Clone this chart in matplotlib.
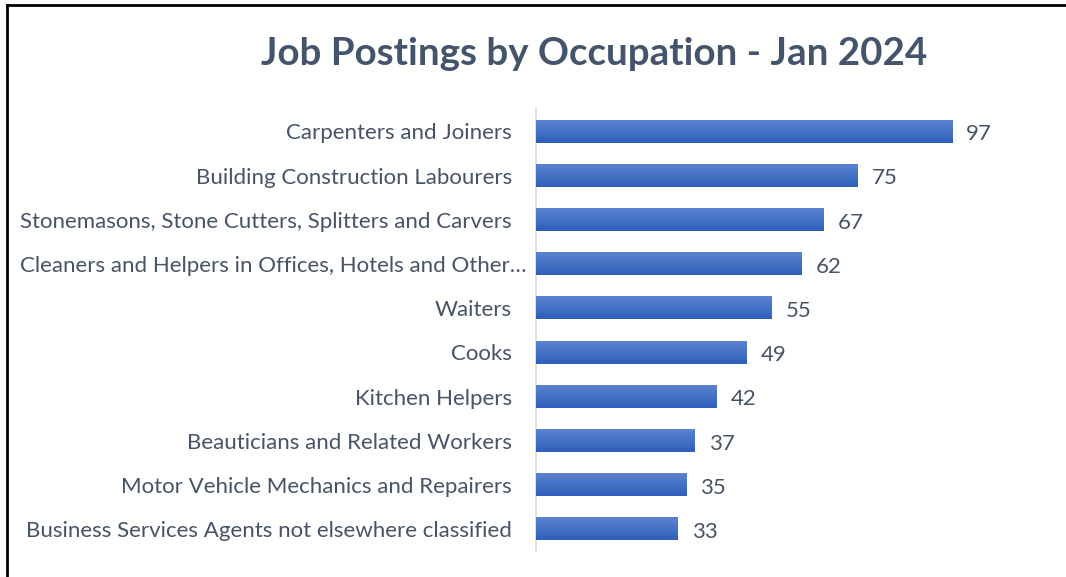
import numpy as np
import matplotlib.pyplot as plt
import matplotlib.transforms as mtransforms
from matplotlib.lines import Line2D
from matplotlib.colors import LinearSegmentedColormap

occupations = [
    "Carpenters and Joiners",
    "Building Construction Labourers",
    "Stonemasons, Stone Cutters, Splitters and Carvers",
    "Cleaners and Helpers in Offices, Hotels and Other\u2026",
    "Waiters",
    "Cooks",
    "Kitchen Helpers",
    "Beauticians and Related Workers",
    "Motor Vehicle Mechanics and Repairers",
    "Business Services Agents not elsewhere classified",
]
postings = [97, 75, 67, 62, 55, 49, 42, 37, 35, 33]

plt.rcParams['font.family'] = ['Lato', 'DejaVu Sans']
text_color = '#475466'

fig = plt.figure(figsize=(10.66, 5.77), dpi=100)
ax = fig.add_axes([536 / 1066, 26 / 577, 474 / 1066, 442 / 577])

# largest at top
y = np.arange(len(occupations))[::-1]
bar_h = 0.52
bars = ax.barh(y, postings, height=bar_h, color='#4472c4', zorder=2)

# vertical gradient on each bar (lighter top, darker bottom)
grad = np.linspace(0, 1, 64).reshape(-1, 1)
cmap = LinearSegmentedColormap.from_list('bar', ['#5b82d0', '#4472c4', '#2e5ebc'])
for b in bars:
    x0, y0 = b.get_x(), b.get_y()
    w, h = b.get_width(), b.get_height()
    im = ax.imshow(grad, cmap=cmap, aspect='auto', origin='upper',
                   extent=[x0, x0 + w, y0, y0 + h], zorder=3)
    im.set_clip_path(b)

ax.set_xlim(0, 110.5)
ax.set_ylim(-0.5, len(occupations) - 0.5)

for yi, v in zip(y, postings):
    ax.text(v + 3.3, yi - 0.07, str(v), va='center', ha='left',
            fontsize=16, color=text_color)

# category labels (the truncated one hangs a bit further right, like Excel)
trans = mtransforms.blended_transform_factory(ax.transAxes, ax.transData)
for yi, lab in zip(y, occupations):
    shift = 15 if lab.endswith('\u2026') else 0
    off = mtransforms.ScaledTranslation((shift - 24) / 100, 0, fig.dpi_scale_trans)
    ax.text(0, yi - 0.05, lab, transform=trans + off, ha='right', va='center',
            fontsize=16, color=text_color)

ax.set_yticks([])
ax.set_xticks([])
for s in ['top', 'right', 'bottom']:
    ax.spines[s].set_visible(False)
ax.spines['left'].set_color('#d9d9d9')
ax.spines['left'].set_linewidth(1.2)

fig.text(594 / 1066, 1 - 54 / 577, "Job Postings by Occupation - Jan 2024",
         ha='center', va='center', fontsize=27.7, fontweight='bold', color='#44546a')

# outer frame (only left and top edges visible)
fig.add_artist(Line2D([7 / 1066, 7 / 1066], [0, 1 - 5 / 577], color='black',
                      lw=2, transform=fig.transFigure))
fig.add_artist(Line2D([7 / 1066, 1], [1 - 5 / 577, 1 - 5 / 577], color='black',
                      lw=2, transform=fig.transFigure))

fig.savefig('out.png', dpi=100)
